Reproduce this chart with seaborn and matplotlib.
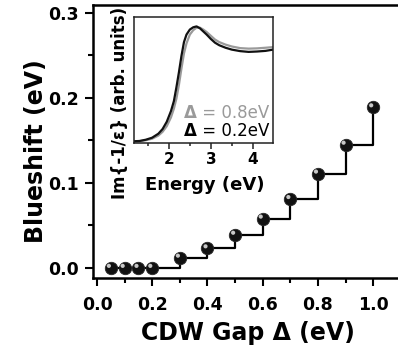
import numpy as np
import pandas as pd
import matplotlib
matplotlib.use('Agg')
import matplotlib.pyplot as plt
import matplotlib.transforms as mtransforms
from matplotlib.ticker import MultipleLocator, FixedLocator
import seaborn as sns

# ---- main data ----
gap = [0.05, 0.1, 0.15, 0.2, 0.3, 0.4, 0.5, 0.6, 0.7, 0.8, 0.9, 1.0]
blueshift = [0.0, 0.0, 0.0, 0.0, 0.012, 0.023, 0.039, 0.058, 0.081, 0.111, 0.145, 0.189]
x_ticks = [0.0, 0.2, 0.4, 0.6, 0.8, 1.0]
y_ticks = [0.0, 0.1, 0.2, 0.3]

# ---- inset data ----
energy = [1.17, 1.3, 1.45, 1.6, 1.75, 1.85, 1.95, 2.05, 2.12, 2.18, 2.24, 2.30, 2.36,
          2.42, 2.5, 2.58, 2.66, 2.74, 2.82, 2.9, 3.0, 3.1, 3.2, 3.35, 3.5, 3.7, 3.9,
          4.1, 4.3, 4.48]
loss_02 = [0.010, 0.012, 0.022, 0.038, 0.07, 0.107, 0.165, 0.25, 0.33, 0.44, 0.56, 0.69,
           0.80, 0.86, 0.90, 0.918, 0.925, 0.91, 0.885, 0.86, 0.825, 0.795, 0.775, 0.755,
           0.74, 0.728, 0.722, 0.725, 0.73, 0.74]
loss_08 = [0.008, 0.010, 0.018, 0.030, 0.055, 0.085, 0.13, 0.20, 0.27, 0.35, 0.46, 0.59,
           0.71, 0.79, 0.86, 0.895, 0.915, 0.915, 0.90, 0.88, 0.85, 0.82, 0.80, 0.78,
           0.765, 0.752, 0.748, 0.75, 0.755, 0.76]
inset_ticks = [2, 3, 4]

sns.set_theme(style='ticks')
plt.rcParams['font.family'] = ['DejaVu Sans']
plt.rcParams['font.weight'] = 'bold'
plt.rcParams['axes.labelweight'] = 'bold'
plt.rcParams['text.color'] = 'black'
plt.rcParams['axes.labelcolor'] = 'black'
plt.rcParams['xtick.color'] = 'black'
plt.rcParams['ytick.color'] = 'black'
plt.rcParams['xtick.labelcolor'] = 'black'
plt.rcParams['ytick.labelcolor'] = 'black'

W, H = 398, 358
fig = plt.figure(figsize=(W / 100, H / 100), dpi=100)

# main axes
L, R, T, B = 93, 398, 4.5, 278
ax = fig.add_axes([L / W, 1 - B / H, (R - L) / W, (B - T) / H])
df = pd.DataFrame({'gap': gap, 'shift': blueshift})
sns.lineplot(data=df, x='gap', y='shift', drawstyle='steps-post', color='black',
             lw=1.6, sort=False, estimator=None, ax=ax, zorder=2)
sns.scatterplot(data=df, x='gap', y='shift', s=80, color='#111111', edgecolor='#2a2a2a',
                linewidth=0.6, ax=ax, zorder=3)
hl = mtransforms.offset_copy(ax.transData, fig=fig, x=-1.4, y=1.4, units='points')
ax.scatter(gap, blueshift, s=9, color='#c8c8c8', edgecolors='none', transform=hl, zorder=4)

ax.set_xlim(-0.0145, 1.09)
ax.set_ylim(-0.012, 0.31)
ax.set_xticks(x_ticks)
ax.set_xticklabels([f'{v:.1f}' for v in x_ticks])
ax.set_yticks(y_ticks)
ax.set_yticklabels([f'{v:.1f}' for v in y_ticks])
ax.xaxis.set_minor_locator(MultipleLocator(0.1))
ax.yaxis.set_minor_locator(MultipleLocator(0.05))
ax.tick_params(which='major', direction='out', length=6, width=1.5, labelsize=12.5,
               color='black', labelcolor='black')
ax.tick_params(axis='x', which='major', pad=7)
ax.tick_params(axis='y', which='major', pad=4)
ax.tick_params(which='minor', direction='out', length=3.5, width=1.5, color='black')
for s in ['left', 'bottom', 'top']:
    ax.spines[s].set_linewidth(1.8)
    ax.spines[s].set_color('black')
ax.spines['right'].set_visible(False)
ax.tick_params(top=False, right=False, which='both')

ax.set_xlabel('CDW Gap Δ (eV)', fontsize=17, fontweight='bold', color='black')
ax.set_ylabel('Blueshift (eV)', fontsize=17, fontweight='bold', color='black')
ax.xaxis.label.set_va('center')
ax.yaxis.label.set_va('center')
ax.xaxis.set_label_coords(0.508, -(333 - B) / (B - T))
ax.yaxis.set_label_coords((36 - L) / (R - L), (B - 151) / (B - T))

# inset
iL, iR, iT, iB = 134, 273, 17, 142.5
axi = fig.add_axes([iL / W, 1 - iB / H, (iR - iL) / W, (iB - iT) / H])
idf = pd.DataFrame({'E': energy * 2, 'loss': loss_08 + loss_02,
                    'gap': ['0.8'] * len(energy) + ['0.2'] * len(energy)})
sns.lineplot(data=idf, x='E', y='loss', hue='gap', palette={'0.8': '#9a9a9a', '0.2': '#111111'},
             lw=1.6, sort=False, estimator=None, legend=False, ax=axi)
axi.set_xlim(1.17, 4.48)
axi.set_ylim(0, 1)
axi.set_yticks([])
axi.set_xticks(inset_ticks)
axi.xaxis.set_minor_locator(FixedLocator([1.5, 2.5, 3.5]))
axi.tick_params(which='major', direction='out', length=4.5, width=1.1, labelsize=11, pad=2.5,
                color='#222222', labelcolor='black')
axi.tick_params(which='minor', direction='out', length=2.5, width=1.1, color='#222222')
for s in axi.spines.values():
    s.set_linewidth(1.1)
    s.set_color('#222222')
axi.set_xlabel('Energy (eV)', fontsize=13, fontweight='bold', color='black')
axi.set_ylabel('Im{-1/ε} (arb. units)', fontsize=12, fontweight='bold', color='black')
axi.xaxis.label.set_va('center')
axi.yaxis.label.set_va('center')
axi.xaxis.set_label_coords(0.51, -(185 - iB) / (iB - iT))
axi.yaxis.set_label_coords((120.5 - iL) / (iR - iL), (iB - 103) / (iB - iT))

t1 = axi.text(0.975, (iB - 112.5) / (iB - iT), ' = 0.8eV', transform=axi.transAxes,
              ha='right', va='center', fontsize=12, fontweight='normal', color='#9a9a9a')
axi.annotate('Δ', xy=(0, 0.5), xycoords=t1, ha='right', va='center', fontsize=12,
             fontweight='bold', color='#9a9a9a')
t2 = axi.text(0.975, (iB - 131) / (iB - iT), ' = 0.2eV', transform=axi.transAxes,
              ha='right', va='center', fontsize=12, fontweight='normal', color='black')
axi.annotate('Δ', xy=(0, 0.5), xycoords=t2, ha='right', va='center', fontsize=12,
             fontweight='bold', color='black')

fig.savefig('out.png', dpi=100)
